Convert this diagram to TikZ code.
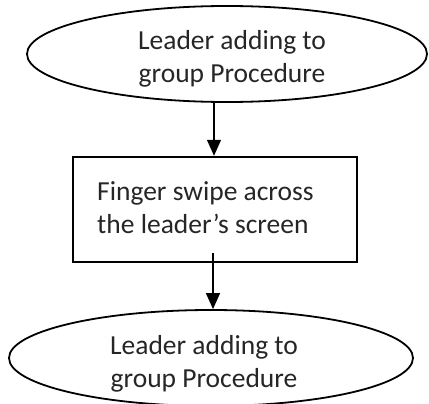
\documentclass[tikz,border=0pt]{standalone}
\usepackage{fontspec}
\setmainfont{Carlito}
\usetikzlibrary{shapes.geometric,arrows.meta}
\begin{document}
\begin{tikzpicture}[x=1pt,y=-1pt,
  term/.style={draw,ellipse,line width=1.8pt,inner sep=0pt},
  procbox/.style={draw,line width=2.4pt,inner sep=0pt},
  lbl/.style={font=\fontsize{27.5}{33}\selectfont,inner sep=0pt,text=black!85},
  flow/.style={line width=1.2pt,-{Triangle[width=14pt,length=16pt]}}]
\useasboundingbox (0,0) rectangle (429,404);
\node[term,minimum width=400pt,minimum height=96pt] (top) at (227,54) {};
\node[procbox,minimum width=284pt,minimum height=105pt] (box) at (215,209.5) {};
\node[term,minimum width=404pt,minimum height=96pt] (bot) at (211,358) {};
\node[lbl,align=center] (ttxt) at (232,59) {Leader adding to\\group Procedure};
\node[lbl,align=left,anchor=west] (btxt) at (97,208) {Finger swipe across\\the leader’s screen};
\node[lbl,align=center] (dtxt) at (204,364) {Leader adding to\\group Procedure};
\coordinate (x1) at (214,0);
\coordinate (s2) at (213,253);
\draw[flow] (top.south -| x1) -- (box.north -| x1);
\draw[flow] (s2) -- (s2 |- bot.north);
\end{tikzpicture}
\end{document}
